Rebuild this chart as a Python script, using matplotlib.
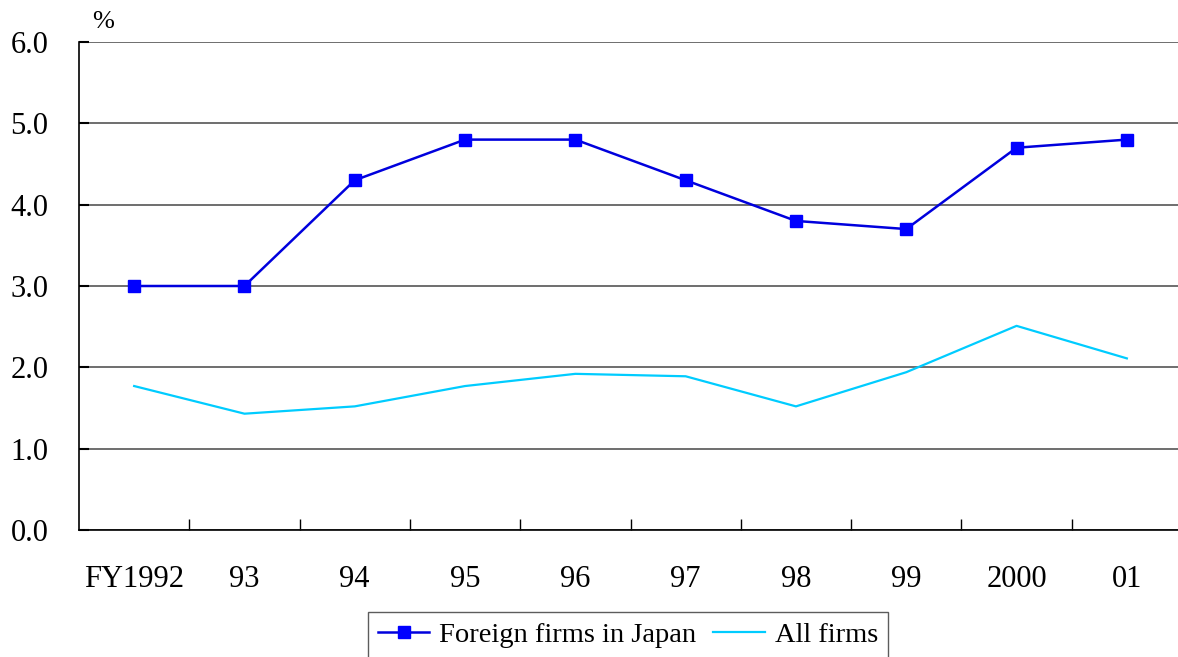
import matplotlib
matplotlib.use("Agg")
import matplotlib.pyplot as plt
import numpy as np

# Fiscal years and ratios (%)
years = ["FY1992", "93", "94", "95", "96", "97", "98", "99", "2000", "01"]
foreign_firms = [3.0, 3.0, 4.3, 4.8, 4.8, 4.3, 3.8, 3.7, 4.7, 4.8]
all_firms = [1.77, 1.43, 1.52, 1.77, 1.92, 1.89, 1.52, 1.94, 2.51, 2.11]
y_ticks = [0.0, 1.0, 2.0, 3.0, 4.0, 5.0, 6.0]

plt.rcParams["font.family"] = ["Liberation Serif", "DejaVu Serif"]

fig = plt.figure(figsize=(11.78, 6.57), dpi=100)
W, H = 1178, 657
ax = fig.add_axes([79 / W, 1 - 530 / H, (1182 - 79) / W, (530 - 42) / H])

x = np.arange(len(years))
ax.plot(x, foreign_firms, color="#0000DD", lw=1.8, marker="s", markersize=8,
        markerfacecolor="#0000FF", markeredgecolor="#0000FF",
        label="Foreign firms in Japan", zorder=3)
ax.plot(x, all_firms, color="#00CCFF", lw=1.6, label="All firms", zorder=3)

ax.set_xlim(-0.5, len(years) - 0.5)
ax.set_ylim(0, 6)

# category labels in the middle, tick marks between categories
ax.set_xticks(x)
ax.set_xticklabels(years, fontsize=22)
ax.tick_params(axis="x", which="major", length=0, pad=25)
ax.set_xticks(np.arange(0.5, len(years) - 0.5, 1.0), minor=True)
ax.tick_params(axis="x", which="minor", direction="in", length=8, width=1, color="black")

ax.set_yticks(y_ticks)
ax.set_yticklabels([f"{v:.1f}" for v in y_ticks], fontsize=22)
ax.tick_params(axis="y", direction="in", length=7, width=1.5, pad=22)

ax.grid(axis="y", color="#555555", lw=1.2)
ax.set_axisbelow(True)
for side in ["top", "right"]:
    ax.spines[side].set_visible(False)
ax.spines["left"].set_color("black")
ax.spines["bottom"].set_color("black")
ax.spines["left"].set_linewidth(1.2)
ax.spines["bottom"].set_linewidth(1.2)

fig.text(92 / W, 1 - 22 / H, "%", fontsize=19, va="center", ha="left")

leg = fig.legend(loc="upper center", bbox_to_anchor=(628 / W, 1 - 612 / H),
                 ncol=2, fontsize=20.5, frameon=True, fancybox=False,
                 edgecolor="#333333", handlelength=1.8, handletextpad=0.35,
                 columnspacing=0.6, borderpad=0.35, borderaxespad=0)
leg.get_frame().set_linewidth(1.0)

fig.savefig("out.png", dpi=100)
